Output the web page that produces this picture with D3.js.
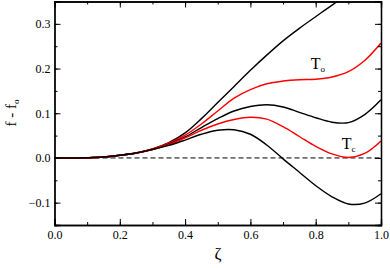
<!DOCTYPE html>
<html><head><meta charset="utf-8">
<script src="https://cdn.jsdelivr.net/npm/d3@7"></script>
<style>body{margin:0;background:#fff}svg{display:block}</style>
</head><body><svg id="c" width="390" height="268" font-family="Liberation Serif, Times New Roman, serif"></svg>
<script>
const zeta = [0,0.05,0.1,0.15,0.2,0.25,0.3,0.35,0.4,0.45,0.5,0.55,0.6,0.65,0.7,0.75,0.8,0.85,0.9,0.95,1.0];
const curveA = [0,0,0.0005,0.002,0.006,0.011,0.020,0.034,0.056,0.088,0.124,0.160,0.196,0.230,0.262,0.290,0.316,0.342,0.366,0.39,0.41];
const curveTo = [0,0,0.0005,0.002,0.006,0.011,0.020,0.033,0.051,0.076,0.105,0.134,0.153,0.166,0.172,0.175,0.176,0.181,0.193,0.218,0.257];
const curveB = [0,0,0.0005,0.002,0.006,0.011,0.019,0.031,0.047,0.068,0.088,0.105,0.115,0.119,0.114,0.102,0.090,0.080,0.079,0.097,0.130];
const curveTc = [0,0,0.0005,0.002,0.006,0.011,0.019,0.030,0.045,0.062,0.076,0.086,0.091,0.087,0.070,0.048,0.026,0.009,0.001,0.010,0.038];
const curveC = [0,0,0.0005,0.002,0.006,0.011,0.019,0.028,0.040,0.053,0.062,0.063,0.053,0.029,-0.002,-0.032,-0.062,-0.087,-0.103,-0.101,-0.080];
const seriesList = [
  {vals: curveA, color: "#000"},
  {vals: curveTo, color: "#ff0000"},
  {vals: curveB, color: "#000"},
  {vals: curveTc, color: "#ff0000"},
  {vals: curveC, color: "#000"}
];
const xTicks = [0,0.2,0.4,0.6,0.8,1.0];
const yTicks = [-0.1,0,0.1,0.2,0.3];
const SERIF = "Liberation Serif, Times New Roman, serif";

const svg = d3.select("#c");
const L=54.5, R=381, T=1.5, B=225;
const x = d3.scaleLinear().domain([0,1]).range([L,R]);
const y = d3.scaleLinear().domain([-0.15,0.35]).range([B,T]);

svg.append("clipPath").attr("id","clip").append("rect").attr("x",L).attr("y",T).attr("width",R-L).attr("height",B-T);

svg.append("line").attr("x1",x(0)).attr("x2",x(1)).attr("y1",y(0)).attr("y2",y(0))
  .attr("stroke","#000").attr("stroke-width",1).attr("stroke-dasharray","5,3");

const line = d3.line().x((d,i)=>x(zeta[i])).y(d=>y(d)).curve(d3.curveCatmullRom.alpha(0.5));
const g = svg.append("g").attr("clip-path","url(#clip)");
seriesList.forEach(s=>{
  g.append("path").attr("d",line(s.vals)).attr("fill","none").attr("stroke",s.color).attr("stroke-width",1.4);
});

const fmt = d3.format(".1f");
const minorX = d3.range(0,1.0001,0.1);
const minorY = d3.range(-0.15,0.3501,0.05);
const a = svg.append("g");
const ab = a.append("g").attr("transform",`translate(0,${B})`).call(d3.axisBottom(x).tickValues(minorX).tickSize(-3).tickFormat(""));
const ab2 = a.append("g").attr("transform",`translate(0,${B})`).call(d3.axisBottom(x).tickValues(xTicks).tickSize(-6).tickPadding(12).tickFormat(fmt));
const at = a.append("g").attr("transform",`translate(0,${T})`).call(d3.axisTop(x).tickValues(minorX).tickSize(-3).tickFormat(""));
const at2 = a.append("g").attr("transform",`translate(0,${T})`).call(d3.axisTop(x).tickValues(xTicks).tickSize(-6).tickFormat(""));
const al = a.append("g").attr("transform",`translate(${L},0)`).call(d3.axisLeft(y).tickValues(minorY).tickSize(-3).tickFormat(""));
const al2 = a.append("g").attr("transform",`translate(${L},0)`).call(d3.axisLeft(y).tickValues(yTicks).tickSize(-6).tickPadding(5).tickFormat(fmt));
const ar = a.append("g").attr("transform",`translate(${R},0)`).call(d3.axisRight(y).tickValues(minorY).tickSize(-3).tickFormat(""));
const ar2 = a.append("g").attr("transform",`translate(${R},0)`).call(d3.axisRight(y).tickValues(yTicks).tickSize(-6).tickFormat(""));
a.selectAll("g").attr("font-family",SERIF).attr("font-size",12);
a.selectAll(".domain").attr("stroke","#000").attr("stroke-width",1.3);
a.selectAll(".tick line").attr("stroke","#000").attr("stroke-width",1);
a.selectAll(".tick text").attr("fill","#000").attr("font-family",SERIF).attr("font-size",12);
ab2.selectAll(".tick text").attr("dy","0.2em");
al2.selectAll(".tick text").attr("x",-4);

svg.append("text").attr("x",218).attr("y",259).attr("text-anchor","middle").attr("font-family",SERIF).attr("font-size",17).text("ζ");
const yl = svg.append("text").attr("transform","translate(16,113) rotate(-90)").attr("text-anchor","middle").attr("font-family",SERIF).attr("font-size",15);
yl.append("tspan").text("f - f");
yl.append("tspan").attr("dy",3).attr("font-size",9).text("o");

const to = svg.append("text").attr("x",x(0.785)).attr("y",y(0.2)).attr("font-family",SERIF).attr("font-size",16);
to.append("tspan").text("T");
to.append("tspan").attr("dy",3).attr("font-size",9).text("o");
const tc = svg.append("text").attr("x",x(0.88)).attr("y",y(0.02)).attr("font-family",SERIF).attr("font-size",16);
tc.append("tspan").text("T");
tc.append("tspan").attr("dy",3).attr("font-size",9).text("c");
</script></body></html>
